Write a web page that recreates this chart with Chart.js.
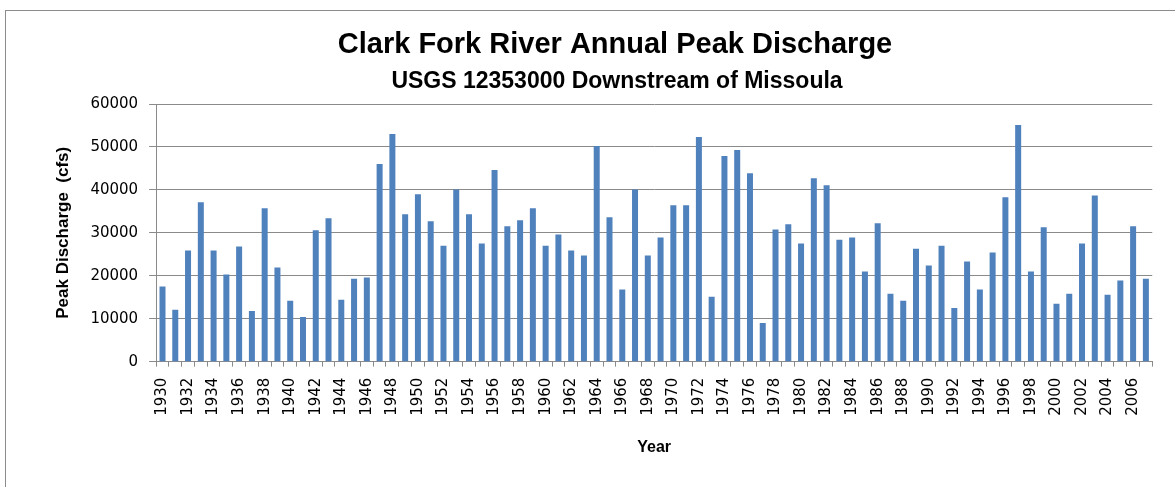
<!DOCTYPE html>
<html>
<head>
<meta charset="utf-8">
<script src="https://cdn.jsdelivr.net/npm/chart.js@4"></script>
<style>
  html, body { margin: 0; padding: 0; background: #ffffff; overflow: hidden; width: 1175px; height: 487px; }
  #frame { position: absolute; left: 5px; top: 10px; width: 1200px; height: 520px; border: 1px solid #8c8c8c; box-sizing: border-box; }
  #c { position: absolute; left: 0; top: 0; }
</style>
</head>
<body>
<div id="frame"></div>
<canvas id="c" width="1175" height="487"></canvas>
<script>
// ---- data ----
const chartTitle = "Clark Fork River Annual Peak Discharge";
const chartSubtitle = "USGS 12353000 Downstream of Missoula";
const xAxisTitle = "Year";
const yAxisTitle = "Peak Discharge  (cfs)";

const years = [
  1930, 1931, 1932, 1933, 1934, 1935, 1936, 1937, 1938, 1939,
  1940, 1941, 1942, 1943, 1944, 1945, 1946, 1947, 1948, 1949,
  1950, 1951, 1952, 1953, 1954, 1955, 1956, 1957, 1958, 1959,
  1960, 1961, 1962, 1963, 1964, 1965, 1966, 1967, 1968, 1969,
  1970, 1971, 1972, 1973, 1974, 1975, 1976, 1977, 1978, 1979,
  1980, 1981, 1982, 1983, 1984, 1985, 1986, 1987, 1988, 1989,
  1990, 1991, 1992, 1993, 1994, 1995, 1996, 1997, 1998, 1999,
  2000, 2001, 2002, 2003, 2004, 2005, 2006, 2007
];

const peakDischarge = [
  17500, 12100, 25900, 37100, 25900, 20300, 26800, 11800, 35700, 21900,
  14200, 10400, 30600, 33400, 14400, 19300, 19600, 46000, 53000, 34300,
  39000, 32700, 27000, 40100, 34300, 27500, 44600, 31500, 32900, 35700,
  27000, 29600, 25900, 24700, 50200, 33600, 16800, 40100, 24700, 28900,
  36400, 36400, 52300, 15100, 47900, 49300, 43900, 9000, 30800, 32000,
  27500, 42700, 41100, 28400, 28900, 21000, 32200, 15800, 14200, 26300,
  22400, 27000, 12500, 23300, 16800, 25400, 38300, 55100, 21000, 31300,
  13500, 15800, 27500, 38700, 15600, 18900, 31500, 19300
];

const yTicks = [0, 10000, 20000, 30000, 40000, 50000, 60000];
const shownYearLabels = years.filter((y, i) => i % 2 === 0).map(String);

// ---- chart ----
const titlePlugin = {
  id: 'excelTitle',
  afterDraw(chart) {
    const ctx = chart.ctx;
    ctx.save();
    ctx.fillStyle = '#000000';
    ctx.textAlign = 'center';
    ctx.textBaseline = 'middle';
    ctx.font = 'bold 29px "Liberation Sans", Arial, sans-serif';
    ctx.fillText(chartTitle, 615, 45);
    ctx.font = 'bold 23px "Liberation Sans", Arial, sans-serif';
    ctx.fillText(chartSubtitle, 617, 82);
    ctx.restore();
  }
};

const gridGray = '#8a8a8a';

new Chart(document.getElementById('c'), {
  type: 'bar',
  data: {
    labels: years.map(String),
    datasets: [{
      label: 'Peak Discharge',
      data: peakDischarge,
      backgroundColor: '#4F81BD',
      borderWidth: 0,
      barPercentage: 0.47,
      categoryPercentage: 1.0
    }]
  },
  options: {
    responsive: false,
    devicePixelRatio: 1,
    animation: false,
    layout: { padding: { left: 50, right: 19, top: 104, bottom: 30 } },
    plugins: {
      legend: { display: false },
      tooltip: { enabled: false },
      title: { display: false }
    },
    scales: {
      x: {
        grid: {
          offset: true,
          drawOnChartArea: false,
          drawTicks: true,
          tickLength: 5,
          color: gridGray,
          tickColor: gridGray
        },
        border: { color: gridGray, width: 1 },
        ticks: {
          autoSkip: false,
          maxRotation: 90,
          minRotation: 90,
          padding: 11,
          color: '#000000',
          font: { family: '"DejaVu Sans", sans-serif', size: 15 },
          callback: function (value, index) {
            const lbl = this.getLabelForValue(value);
            return shownYearLabels.includes(lbl) ? lbl : '';
          }
        },
        title: {
          display: true,
          text: xAxisTitle,
          color: '#000000',
          font: { family: '"Liberation Sans", Arial, sans-serif', size: 16, weight: 'bold' },
          padding: { top: 11, bottom: 0 }
        }
      },
      y: {
        min: 0,
        max: 60000,
        afterBuildTicks(scale) {
          scale.ticks = yTicks.map(v => ({ value: v }));
        },
        grid: {
          color: gridGray,
          tickColor: gridGray,
          tickLength: 7,
          drawTicks: true
        },
        border: { color: gridGray, width: 1 },
        ticks: {
          padding: 11,
          color: '#000000',
          font: { family: '"DejaVu Sans", sans-serif', size: 15 },
          callback: (v) => String(v)
        },
        title: {
          display: true,
          text: yAxisTitle,
          color: '#000000',
          font: { family: '"Liberation Sans", Arial, sans-serif', size: 17, weight: 'bold' },
          padding: { top: 3, bottom: 6 }
        }
      }
    }
  },
  plugins: [titlePlugin]
});
</script>
</body>
</html>
